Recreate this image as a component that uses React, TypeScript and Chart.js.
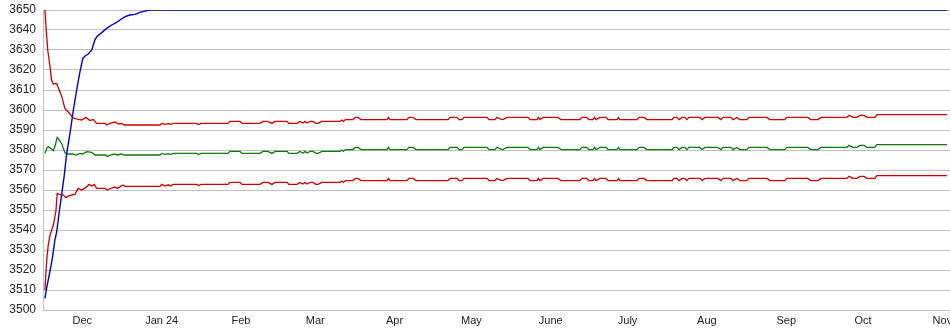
import React, { useEffect, useRef } from "react";
import { Chart, registerables } from "chart.js";

Chart.register(...registerables);

// x values are days counted from 1 Dec 2023
const monthTickDays = [0, 31, 62, 91, 122, 152, 183, 213, 244, 275, 305, 336];
const monthTickLabels = ["Dec", "Jan 24", "Feb", "Mar", "Apr", "May", "June", "July", "Aug", "Sep", "Oct", "Nov"];

const yTickValues = [3500, 3510, 3520, 3530, 3540, 3550, 3560, 3570, 3580, 3590, 3600, 3610, 3620, 3630, 3640, 3650];

const blueSeries: [number, number][] = [
  [-14.6, 3505.8], [-13.7, 3512.5], [-12.6, 3519.5], [-11.6, 3526.7], [-10.7, 3535], [-10.0, 3539],
  [-9.0, 3549], [-8.0, 3558.3], [-7.1, 3566.7], [-6.1, 3578.3], [-4.8, 3588.3], [-3.5, 3600],
  [-2.2, 3610], [-0.9, 3619.2], [0.2, 3625.8], [1.1, 3627], [2.3, 3628], [3.7, 3630], [5.0, 3635.3],
  [5.9, 3637], [7.6, 3638.7], [9.5, 3640.8], [11.5, 3642.5], [13.4, 3643.8], [14.7, 3645],
  [16.7, 3646.7], [18.6, 3647.5], [20.6, 3647.8], [22.5, 3648.8], [25.2, 3649.7], [27.1, 3650], [337.8, 3650],
];

const greenEarly: [number, number][] = [
  [-14.6, 3578.3], [-13.9, 3580.8], [-13.3, 3581.7], [-12.0, 3580.5], [-11.3, 3579.7], [-10.7, 3581.7],
  [-9.8, 3586.3], [-9.0, 3585], [-8.0, 3583], [-6.8, 3578.7], [-6.1, 3578], [-3.5, 3578], [-2.5, 3577.5],
  [-0.9, 3578.3], [0.2, 3578], [1.7, 3579.2], [3.7, 3578.8], [5.0, 3577.5], [9.3, 3577.5], [9.8, 3576.7],
  [10.8, 3577.5], [12.8, 3578], [13.7, 3577.5], [15.4, 3578], [16.3, 3577.5], [30.4, 3577.5], [31.0, 3578.3],
  [32.3, 3577.8], [33.6, 3578.2], [34.5, 3577.8], [35.5, 3578.3], [44.7, 3578.3], [45.4, 3577.7],
];

const upperEarly: [number, number][] = [
  [-14.6, 3650], [-13.9, 3636.7], [-13.5, 3630], [-12.6, 3621.7], [-12.0, 3615], [-11.3, 3613],
  [-10.0, 3613.3], [-9.4, 3611.3], [-8.0, 3606.7], [-6.8, 3600.8], [-5.5, 3599], [-3.5, 3596],
  [-1.6, 3595.3], [-0.2, 3595], [1.4, 3596.3], [3.0, 3594.7], [4.3, 3595.3], [5.6, 3593.3], [8.9, 3593.3],
  [9.5, 3592.5], [10.8, 3593.3], [12.8, 3594], [14.1, 3593], [15.4, 3593.3], [16.3, 3592.5], [30.4, 3592.5],
  [31.0, 3593.3], [32.3, 3592.8], [33.6, 3593.2], [34.5, 3592.8], [35.5, 3593.3], [44.7, 3593.3], [45.4, 3592.7],
];

const lowerEarly: [number, number][] = [
  [-14.6, 3510], [-13.9, 3525], [-13.3, 3532.5], [-12.6, 3537.5], [-11.3, 3542.5], [-10.3, 3549.5],
  [-9.8, 3558.3], [-9.0, 3557.8], [-7.4, 3557.5], [-6.4, 3556.2], [-5.1, 3557.2], [-2.9, 3557.8],
  [-1.6, 3560.8], [-0.2, 3560], [1.4, 3561.3], [2.7, 3562.8], [3.7, 3562], [4.7, 3562.8], [5.6, 3560.8],
  [8.9, 3560.8], [9.8, 3560], [11.5, 3561], [12.8, 3561.5], [13.7, 3560.8], [15.8, 3562.5], [16.7, 3561.8],
  [30.4, 3561.8], [31.0, 3562.8], [32.3, 3562], [33.6, 3562.6], [34.5, 3562], [35.5, 3562.8], [44.7, 3562.8],
  [45.4, 3562.2],
];

const lateDays = [
  46.4, 56.9, 57.7, 61.6, 62.4, 69.4, 70.6, 72.5, 74.1, 75.3,
  80.0, 80.7, 83.9, 85.0, 86.2, 87.0, 87.8, 89.0, 90.1, 91.3,
  92.1, 93.6, 100.7, 101.4, 102.0, 102.8, 105.7, 106.7, 107.7, 108.9,
  119.0, 119.6, 120.2, 126.8, 127.6, 129.2, 130.4, 142.9, 143.6, 146.4,
  147.2, 148.3, 149.1, 158.1, 158.9, 161.2, 162.0, 163.2, 164.3, 165.9,
  174.1, 174.9, 177.6, 178.2, 178.8, 180.0, 185.8, 187.0, 194.4, 195.2,
  197.1, 197.9, 199.5, 200.1, 200.7, 202.2, 204.6, 205.4, 208.9, 209.5,
  210.0, 216.7, 217.5, 219.4, 220.6, 230.4, 231.1, 232.3, 233.1, 234.3,
  235.4, 236.2, 237.0, 241.3, 242.1, 243.2, 248.3, 249.5, 250.3, 253.4,
  254.2, 255.7, 256.9, 259.6, 260.4, 267.5, 268.6, 274.4, 275.2, 283.4,
  284.6, 287.4, 288.6, 298.7, 299.5, 301.1, 302.6, 303.8, 305.4, 306.5,
  309.6, 310.4, 337.8,
];

const greenLate = [
  3578.3, 3578.3, 3579.3, 3579.3, 3578.3, 3578.3, 3579.3, 3579.3, 3578.3, 3579.3,
  3579.3, 3578.3, 3578.3, 3579.3, 3578.5, 3579.3, 3578.5, 3579.3, 3579.3, 3578.3,
  3578.3, 3579.3, 3579.3, 3580.0, 3579.3, 3580.2, 3580.2, 3581.3, 3581.3, 3580.2,
  3580.2, 3581.3, 3580.2, 3580.2, 3581.3, 3581.3, 3580.2, 3580.2, 3581.3, 3581.3,
  3580.2, 3580.2, 3581.3, 3581.3, 3580.2, 3580.2, 3581.3, 3580.5, 3580.2, 3581.3,
  3581.3, 3580.2, 3580.2, 3581.3, 3580.2, 3581.3, 3581.3, 3580.2, 3580.2, 3581.3,
  3581.3, 3580.2, 3580.2, 3581.3, 3580.2, 3581.3, 3581.3, 3580.2, 3580.2, 3581.3,
  3580.2, 3580.2, 3581.3, 3581.3, 3580.2, 3580.2, 3581.3, 3581.3, 3580.2, 3581.3,
  3581.3, 3580.2, 3581.3, 3581.3, 3580.2, 3581.3, 3581.3, 3580.2, 3581.3, 3581.3,
  3580.2, 3581.3, 3580.2, 3580.2, 3581.3, 3581.3, 3580.2, 3580.2, 3581.3, 3581.3,
  3580.2, 3580.2, 3581.3, 3581.3, 3582.3, 3581.3, 3581.3, 3582.3, 3582.3, 3581.3,
  3581.3, 3582.7, 3582.7,
];

const upperLate = [
  3593.3, 3593.3, 3594.3, 3594.3, 3593.3, 3593.3, 3594.3, 3594.3, 3593.3, 3594.3,
  3594.3, 3593.3, 3593.3, 3594.3, 3593.5, 3594.3, 3593.5, 3594.3, 3594.3, 3593.3,
  3593.3, 3594.3, 3594.3, 3595.0, 3594.3, 3595.2, 3595.2, 3596.3, 3596.3, 3595.2,
  3595.2, 3596.3, 3595.2, 3595.2, 3596.3, 3596.3, 3595.2, 3595.2, 3596.3, 3596.3,
  3595.2, 3595.2, 3596.3, 3596.3, 3595.2, 3595.2, 3596.3, 3595.5, 3595.2, 3596.3,
  3596.3, 3595.2, 3595.2, 3596.3, 3595.2, 3596.3, 3596.3, 3595.2, 3595.2, 3596.3,
  3596.3, 3595.2, 3595.2, 3596.3, 3595.2, 3596.3, 3596.3, 3595.2, 3595.2, 3596.3,
  3595.2, 3595.2, 3596.3, 3596.3, 3595.2, 3595.2, 3596.3, 3596.3, 3595.2, 3596.3,
  3596.3, 3595.2, 3596.3, 3596.3, 3595.2, 3596.3, 3596.3, 3595.2, 3596.3, 3596.3,
  3595.2, 3596.3, 3595.2, 3595.2, 3596.3, 3596.3, 3595.2, 3595.2, 3596.3, 3596.3,
  3595.2, 3595.2, 3596.3, 3596.3, 3597.3, 3596.3, 3596.3, 3597.3, 3597.3, 3596.3,
  3596.3, 3597.7, 3597.7,
];

const lowerLate = [
  3562.8, 3562.8, 3563.8, 3563.8, 3562.8, 3562.8, 3563.8, 3563.8, 3562.8, 3563.8,
  3563.8, 3562.8, 3562.8, 3563.8, 3563.0, 3563.8, 3563.0, 3563.8, 3563.8, 3562.8,
  3562.8, 3563.8, 3563.8, 3564.5, 3563.8, 3564.7, 3564.7, 3565.8, 3565.8, 3564.7,
  3564.7, 3565.8, 3564.7, 3564.7, 3565.8, 3565.8, 3564.7, 3564.7, 3565.8, 3565.8,
  3564.7, 3564.7, 3565.8, 3565.8, 3564.7, 3564.7, 3565.8, 3565.0, 3564.7, 3565.8,
  3565.8, 3564.7, 3564.7, 3565.8, 3564.7, 3565.8, 3565.8, 3564.7, 3564.7, 3565.8,
  3565.8, 3564.7, 3564.7, 3565.8, 3564.7, 3565.8, 3565.8, 3564.7, 3564.7, 3565.8,
  3564.7, 3564.7, 3565.8, 3565.8, 3564.7, 3564.7, 3565.8, 3565.8, 3564.7, 3565.8,
  3565.8, 3564.7, 3565.8, 3565.8, 3564.7, 3565.8, 3565.8, 3564.7, 3565.8, 3565.8,
  3564.7, 3565.8, 3564.7, 3564.7, 3565.8, 3565.8, 3564.7, 3564.7, 3565.8, 3565.8,
  3564.7, 3564.7, 3565.8, 3565.8, 3566.8, 3565.8, 3565.8, 3566.8, 3566.8, 3565.8,
  3565.8, 3567.2, 3567.2,
];

const X_MIN = -15.35;
const X_MAX = 358.5;
const Y_MIN = 3500;
const Y_MAX = 3650;

function toPoints(early: [number, number][], lateVals?: number[]) {
  const pts = early.map(([x, y]) => ({ x, y }));
  if (lateVals) lateDays.forEach((x, i) => pts.push({ x, y: lateVals[i] }));
  return pts;
}

const FAMILY = "'Liberation Sans', Arial, sans-serif";

export default function App() {
  const ref = useRef<HTMLCanvasElement | null>(null);

  useEffect(() => {
    if (!ref.current) return;
    const chart = new Chart(ref.current, {
      type: "line",
      data: {
        datasets: [
          {
            label: "blue",
            data: toPoints(blueSeries),
            borderColor: "#0000cc",
            borderWidth: 1.4,
            pointRadius: 0,
            tension: 0,
            segment: {
              borderColor: (ctx: any) =>
                ctx.p0.parsed.y >= Y_MAX && ctx.p1.parsed.y >= Y_MAX ? "#000050" : "#0000cc",
            },
          },
          {
            label: "upper",
            data: toPoints(upperEarly, upperLate),
            borderColor: "#c80000",
            borderWidth: 1.3,
            pointRadius: 0,
            tension: 0,
          },
          {
            label: "mean",
            data: toPoints(greenEarly, greenLate),
            borderColor: "#0a7a0a",
            borderWidth: 1.3,
            pointRadius: 0,
            tension: 0,
          },
          {
            label: "lower",
            data: toPoints(lowerEarly, lowerLate),
            borderColor: "#c80000",
            borderWidth: 1.3,
            pointRadius: 0,
            tension: 0,
          },
        ],
      },
      options: {
        animation: false,
        responsive: false,
        devicePixelRatio: 1,
        layout: { padding: { top: 10, left: 0, right: 0, bottom: 0 } },
        plugins: { legend: { display: false }, tooltip: { enabled: false } },
        scales: {
          x: {
            type: "linear",
            min: X_MIN,
            max: X_MAX,
            afterBuildTicks: (scale: any) => {
              scale.ticks = monthTickDays.map((v) => ({ value: v }));
            },
            afterFit: (scale: any) => {
              scale.height = 25;
              scale.paddingLeft = 0;
              scale.paddingRight = 0;
            },
            grid: { display: false, drawTicks: false },
            border: { display: true, color: "#c0c0c0" },
            ticks: {
              autoSkip: false,
              maxRotation: 0,
              minRotation: 0,
              padding: 4,
              color: "#222",
              font: { family: FAMILY, size: 11 },
              callback: (value: any) => {
                const i = monthTickDays.indexOf(Number(value));
                return i >= 0 ? monthTickLabels[i] : "";
              },
            },
          },
          y: {
            type: "linear",
            min: Y_MIN,
            max: Y_MAX,
            afterBuildTicks: (scale: any) => {
              scale.ticks = yTickValues.map((v) => ({ value: v }));
            },
            afterFit: (scale: any) => {
              scale.width = 43;
              scale.paddingTop = 0;
              scale.paddingBottom = 0;
            },
            grid: { color: "#c0c0c0", lineWidth: 1, drawTicks: false },
            border: { display: true, color: "#c0c0c0" },
            ticks: {
              padding: 7,
              color: "#222",
              font: { family: FAMILY, size: 12 },
              callback: (value: any) => String(value),
            },
          },
        },
      },
    });
    return () => chart.destroy();
  }, []);

  return (
    <div
      style={{
        position: "fixed",
        left: 0,
        top: 0,
        width: 950,
        height: 335,
        overflow: "hidden",
        background: "#fff",
      }}
    >
      <canvas ref={ref} width={1000} height={335} style={{ width: 1000, height: 335, display: "block" }} />
    </div>
  );
}
